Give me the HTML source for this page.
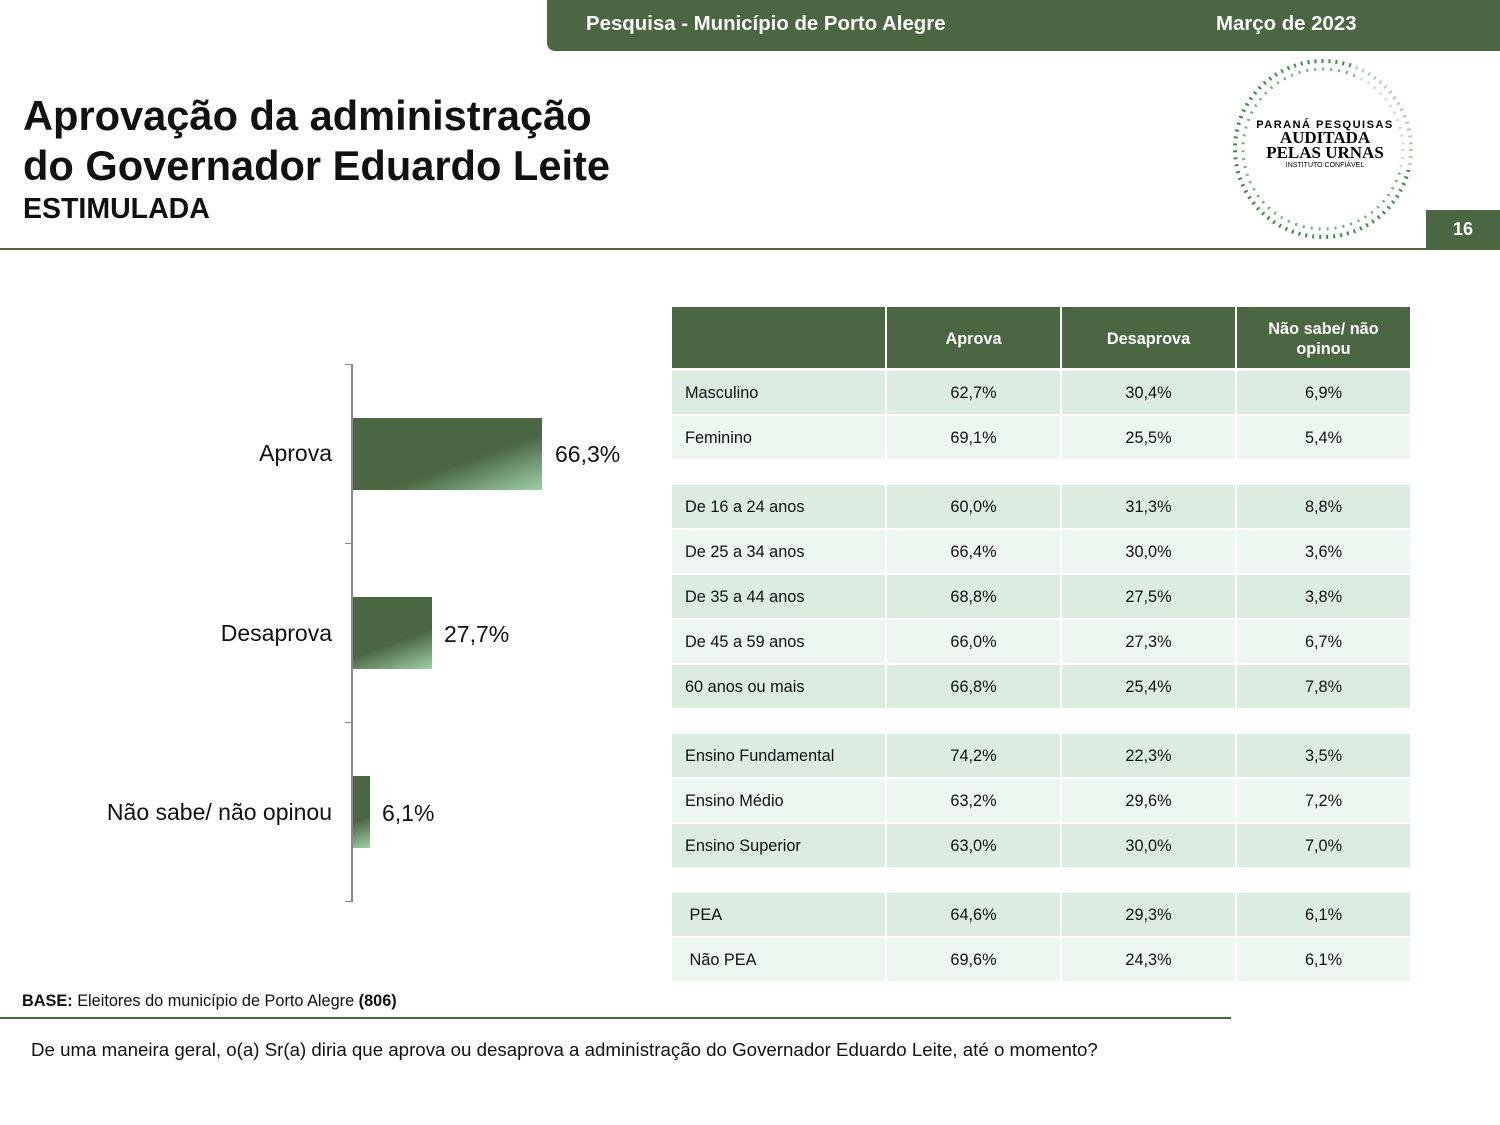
<!DOCTYPE html>
<html><head><meta charset="utf-8"><style>
body{margin:0;width:1500px;height:1125px;background:#fff;font-family:"Liberation Sans",sans-serif;position:relative;overflow:hidden}
.a{position:absolute}
.hdr{left:547px;top:0;width:953px;height:51px;background:#4a6741;border-radius:0 0 0 8px;color:#fff;font-weight:bold;font-size:20.4px}
.cell{position:absolute;font-size:16.3px;color:#111;display:flex;align-items:center;padding-top:2px;box-sizing:border-box}
.c{justify-content:center}
.bar{position:absolute;left:353px;background:linear-gradient(160deg,#4a6741 0%,#4a6741 60%,#9fd0a6 100%)}
.lbl{position:absolute;font-size:23px;color:#111}
</style></head><body>
<div class="a hdr"><span class="a" style="left:39px;top:13px">Pesquisa - Município de Porto Alegre</span><span class="a" style="left:669px;top:13px">Março de 2023</span></div>
<div class="a" style="left:23px;top:91px;font-size:41.6px;font-weight:bold;line-height:50px;color:#111">Aprovação da administração<br>do Governador Eduardo Leite</div>
<div class="a" style="left:23px;top:193px;font-size:28.5px;font-weight:bold;color:#111">ESTIMULADA</div>
<div class="a" style="left:0;top:248px;width:1500px;height:2px;background:#4a6741"></div>
<div class="a" style="left:1426px;top:210px;width:74px;height:39px;background:#4a6741;color:#fff;font-weight:bold;font-size:18px;text-align:center;line-height:39px">16</div>
<svg class="a" style="left:1225px;top:55px" width="200" height="190">
<circle cx="98" cy="94" r="88" fill="none" stroke="#3f8a4a" stroke-width="4" stroke-dasharray="2 5"/>
<circle cx="98" cy="94" r="80" fill="none" stroke="#3f8a4a" stroke-width="3" stroke-dasharray="2 6" opacity=".7"/>
<rect x="130" y="5" width="65" height="110" fill="#fff" opacity=".6"/>
<text x="100" y="73" text-anchor="middle" font-family="Liberation Sans" font-weight="bold" font-size="11" letter-spacing="1.5">PARANÁ PESQUISAS</text>
<text x="100" y="88" text-anchor="middle" font-family="Liberation Serif" font-weight="bold" font-size="17">AUDITADA</text>
<text x="100" y="103" text-anchor="middle" font-family="Liberation Serif" font-weight="bold" font-size="17">PELAS URNAS</text>
<text x="100" y="112" text-anchor="middle" font-family="Liberation Sans" font-size="7">INSTITUTO CONFIÁVEL</text>
</svg>
<div class="a" style="left:351px;top:364px;width:2px;height:538px;background:#888"></div>
<div class="a" style="left:345px;top:364px;width:6px;height:1px;background:#888"></div>
<div class="a" style="left:345px;top:543px;width:6px;height:1px;background:#888"></div>
<div class="a" style="left:345px;top:722px;width:6px;height:1px;background:#888"></div>
<div class="a" style="left:345px;top:901px;width:6px;height:1px;background:#888"></div>
<div class="bar" style="top:418px;width:189px;height:72px"></div>
<div class="bar" style="top:597px;width:79px;height:72px"></div>
<div class="bar" style="top:776px;width:17px;height:72px"></div>
<div class="lbl" style="right:1168px;top:440px">Aprova</div>
<div class="lbl" style="right:1168px;top:620px">Desaprova</div>
<div class="lbl" style="right:1168px;top:799px">Não sabe/ não opinou</div>
<div class="lbl" style="left:555px;top:441px">66,3%</div>
<div class="lbl" style="left:444px;top:621px">27,7%</div>
<div class="lbl" style="left:382px;top:800px">6,1%</div>
<div id="t"></div>
<div class="a" style="left:22px;top:992px;font-size:16.3px;color:#111"><b>BASE:</b> Eleitores do município de Porto Alegre <b>(806)</b></div>
<div class="a" style="left:0;top:1017px;width:1231px;height:2px;background:#4a6741"></div>
<div class="a" style="left:31px;top:1039px;font-size:18.7px;color:#111">De uma maneira geral, o(a) Sr(a) diria que aprova ou desaprova a administração do Governador Eduardo Leite, até o momento?</div>
<script>
var cols=[[672,213],[887,173],[1062,173],[1237,173]];
var h='';
var hd=['','Aprova','Desaprova','Não sabe/ não<br>opinou'];
cols.forEach(function(c,i){h+='<div class="cell c" style="left:'+c[0]+'px;top:307px;width:'+c[1]+'px;height:61px;background:#4a6741;color:#fff;font-weight:bold;text-align:center;line-height:20px">'+hd[i]+'</div>';});
var rows=[[371,'Masculino','62,7%','30,4%','6,9%'],[416,'Feminino','69,1%','25,5%','5,4%'],
[485,'De 16 a 24 anos','60,0%','31,3%','8,8%'],[530,'De 25 a 34 anos','66,4%','30,0%','3,6%'],[575,'De 35 a 44 anos','68,8%','27,5%','3,8%'],[620,'De 45 a 59 anos','66,0%','27,3%','6,7%'],[665,'60 anos ou mais','66,8%','25,4%','7,8%'],
[734,'Ensino Fundamental','74,2%','22,3%','3,5%'],[779,'Ensino Médio','63,2%','29,6%','7,2%'],[824,'Ensino Superior','63,0%','30,0%','7,0%'],
[893,' PEA','64,6%','29,3%','6,1%'],[938,' Não PEA','69,6%','24,3%','6,1%']];
var dark={371:1,485:1,575:1,665:1,734:1,824:1,893:1};
rows.forEach(function(r){var bg=dark[r[0]]?'#dcece0':'#eef6f0';
cols.forEach(function(c,i){h+='<div class="cell'+(i?' c':'')+'" style="left:'+c[0]+'px;top:'+r[0]+'px;width:'+c[1]+'px;height:43px;background:'+bg+';padding-left:'+(i?0:13)+'px;white-space:pre">'+r[i+1]+'</div>';});});
document.getElementById('t').innerHTML=h;
</script>
</body></html>
